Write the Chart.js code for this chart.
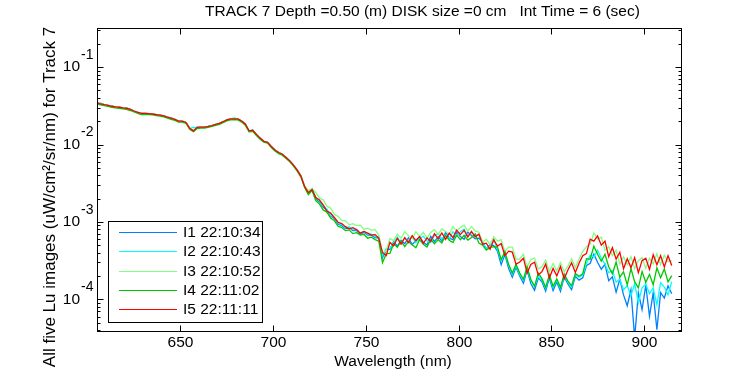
<!DOCTYPE html>
<html>
<head>
<meta charset="utf-8">
<script src="https://cdn.jsdelivr.net/npm/chart.js@4.4.1/dist/chart.umd.min.js"></script>
<style>
  html, body { margin: 0; padding: 0; background: #fff; }
  canvas { display: block; }
</style>
</head>
<body>
<canvas id="lu-chart" width="750" height="375"></canvas>
<script>
// Wavelength grid (nm)
const wavelengths = [
  605, 607, 609, 611, 613, 615, 617, 619, 621, 623, 625, 627, 629, 631, 633, 635, 637, 639, 641, 643,
  645, 647, 649, 651, 653, 655, 657, 659, 661, 663, 665, 667, 669, 671, 673, 675, 677, 679, 681, 683,
  685, 687, 689, 691, 693, 695, 697, 699, 701, 703, 705, 707, 709, 711, 713, 715, 717, 719, 721, 723,
  725, 727, 729, 731, 733, 735, 737, 739, 741, 743, 745, 747, 749, 751, 753, 755, 757, 759, 761, 763,
  765, 767, 769, 771, 773, 775, 777, 779, 781, 783, 785, 787, 789, 791, 793, 795, 797, 799, 801, 803,
  805, 807, 809, 811, 813, 815, 817, 819, 821, 823, 825, 827, 829, 831, 833, 835, 837, 839, 841, 843,
  845, 847, 849, 851, 853, 855, 857, 859, 861, 863, 865, 867, 869, 871, 873, 875, 877, 879, 881, 883,
  885, 887, 889, 891, 893, 895, 897, 899, 901, 903, 905, 907, 909, 911, 913, 915
];

const xTicks = [650, 700, 750, 800, 850, 900];
const yDecades = [-1, -2, -3, -4];
const seriesNames = ['I1 22:10:34', 'I2 22:10:43', 'I3 22:10:52', 'I4 22:11:02', 'I5 22:11:11'];
const seriesColors = ['#0080ff', '#00ffff', '#80ff80', '#00c800', '#ff0000'];

// Lu (uW/cm^2/sr/nm), one value per wavelength
const luI1 = [
  3.46e-2, 3.36e-2, 3.27e-2, 3.20e-2, 3.12e-2, 3.07e-2, 3.03e-2, 2.98e-2, 2.94e-2, 2.84e-2,
  2.71e-2, 2.61e-2, 2.52e-2, 2.52e-2, 2.50e-2, 2.48e-2, 2.44e-2, 2.39e-2, 2.34e-2, 2.26e-2,
  2.19e-2, 2.11e-2, 2.01e-2, 2.01e-2, 1.93e-2, 1.62e-2, 1.50e-2, 1.66e-2, 1.68e-2, 1.68e-2,
  1.71e-2, 1.76e-2, 1.82e-2, 1.88e-2, 1.97e-2, 2.08e-2, 2.14e-2, 2.15e-2, 2.14e-2, 2.01e-2,
  1.84e-2, 1.50e-2, 1.53e-2, 1.35e-2, 1.21e-2, 1.10e-2, 1.07e-2, 9.42e-3, 8.49e-3, 7.88e-3,
  7.49e-3, 6.79e-3, 6.15e-3, 5.43e-3, 4.68e-3, 3.91e-3,
  2.86e-3, 2.32e-3, 2.62e-3, 2.01e-3, 1.81e-3, 1.56e-3, 1.42e-3, 1.19e-3, 1.11e-3, 9.33e-4,
  8.96e-4, 8.19e-4, 8.39e-4, 7.71e-4, 7.72e-4, 6.95e-4, 7.31e-4, 6.74e-4, 6.75e-4, 6.26e-4, 6.17e-4,
  3.46e-4, 4.38e-4, 4.42e-4, 5.56e-4, 4.86e-4, 5.81e-4, 5.24e-4, 6.26e-4, 5.09e-4, 5.73e-4,
  6.45e-4, 5.46e-4, 5.04e-4, 6.50e-4, 5.56e-4, 6.45e-4, 5.68e-4, 7.31e-4, 6.17e-4, 5.90e-4,
  7.37e-4, 6.46e-4, 5.97e-4, 7.40e-4, 6.69e-4, 6.05e-4, 6.18e-4, 5.48e-4, 4.45e-4, 5.12e-4, 4.94e-4,
  4.19e-4, 2.80e-4, 3.78e-4, 2.52e-4, 1.93e-4, 2.60e-4, 2.00e-4, 1.61e-4, 2.39e-4, 1.60e-4,
  1.31e-4, 1.88e-4, 1.69e-4, 1.27e-4, 1.89e-4, 1.30e-4, 1.68e-4, 1.27e-4, 1.95e-4, 1.58e-4,
  1.33e-4, 1.98e-4, 1.77e-4, 1.90e-4,
  2.72e-4, 2.93e-4, 3.84e-4, 3.02e-4, 2.45e-4, 2.84e-4, 1.74e-4, 1.96e-4, 1.24e-4, 1.82e-4,
  1.14e-4, 8.26e-5, 1.33e-4, 3.18e-5, 1.22e-4, 7.36e-5, 1.52e-4, 6.03e-5, 1.21e-4, 4.05e-5,
  1.22e-4, 1.04e-4, 1.50e-4, 1.18e-4
];

const luI2 = [
  3.46e-2, 3.42e-2, 3.27e-2, 3.20e-2, 3.12e-2, 3.07e-2, 3.03e-2, 2.98e-2, 2.94e-2, 2.84e-2,
  2.71e-2, 2.61e-2, 2.52e-2, 2.52e-2, 2.50e-2, 2.48e-2, 2.44e-2, 2.39e-2, 2.34e-2, 2.26e-2,
  2.19e-2, 2.11e-2, 2.01e-2, 2.01e-2, 1.93e-2, 1.62e-2, 1.66e-2, 1.66e-2, 1.68e-2, 1.68e-2,
  1.71e-2, 1.76e-2, 1.82e-2, 1.88e-2, 1.97e-2, 2.08e-2, 2.14e-2, 2.20e-2, 2.14e-2, 2.01e-2,
  1.84e-2, 1.50e-2, 1.53e-2, 1.35e-2, 1.21e-2, 1.10e-2, 1.07e-2, 9.42e-3, 8.49e-3, 7.88e-3,
  7.49e-3, 6.79e-3, 6.15e-3, 5.43e-3, 4.68e-3, 3.91e-3,
  2.86e-3, 2.39e-3, 2.70e-3, 2.07e-3, 1.86e-3, 1.61e-3, 1.46e-3, 1.22e-3, 1.14e-3, 9.61e-4,
  9.23e-4, 8.44e-4, 8.64e-4, 7.95e-4, 7.95e-4, 7.16e-4, 7.53e-4, 6.95e-4, 6.95e-4, 6.46e-4, 6.36e-4,
  3.67e-4, 4.51e-4, 4.55e-4, 5.40e-4, 6.36e-4, 5.32e-4, 6.26e-4, 5.56e-4, 6.45e-4, 5.40e-4,
  6.08e-4, 6.53e-4, 5.68e-4, 5.44e-4, 6.64e-4, 7.05e-4, 6.03e-4, 6.89e-4, 5.99e-4, 7.49e-4,
  6.55e-4, 7.49e-4, 8.05e-4, 6.57e-4, 7.31e-4, 6.61e-4, 6.95e-4, 5.32e-4, 4.58e-4, 4.69e-4, 5.90e-4,
  4.45e-4, 3.16e-4, 4.01e-4, 2.76e-4, 2.11e-4, 2.76e-4, 2.12e-4, 1.77e-4, 2.54e-4, 1.75e-4,
  1.47e-4, 2.00e-4, 1.79e-4, 1.39e-4, 2.01e-4, 1.42e-4, 1.78e-4, 1.38e-4, 2.07e-4, 1.67e-4,
  1.45e-4, 2.10e-4, 1.93e-4, 2.08e-4,
  2.88e-4, 3.72e-4, 3.51e-4, 4.31e-4, 3.40e-4, 2.84e-4, 2.21e-4, 2.34e-4, 1.67e-4, 1.82e-4,
  1.33e-4, 1.50e-4, 1.11e-4, 1.59e-4, 9.04e-5, 1.42e-4, 1.56e-4, 1.19e-4, 1.41e-4, 8.51e-5,
  1.64e-4, 1.44e-4, 1.14e-4, 1.69e-4
];

const luI3 = [
  3.46e-2, 3.36e-2, 3.27e-2, 3.20e-2, 3.12e-2, 3.07e-2, 3.03e-2, 2.98e-2, 2.94e-2, 2.84e-2,
  2.71e-2, 2.61e-2, 2.52e-2, 2.52e-2, 2.50e-2, 2.48e-2, 2.44e-2, 2.39e-2, 2.34e-2, 2.26e-2,
  2.19e-2, 2.11e-2, 2.01e-2, 2.01e-2, 1.93e-2, 1.62e-2, 1.50e-2, 1.66e-2, 1.68e-2, 1.68e-2,
  1.71e-2, 1.76e-2, 1.82e-2, 1.88e-2, 1.97e-2, 2.08e-2, 2.14e-2, 2.15e-2, 2.14e-2, 2.01e-2,
  1.84e-2, 1.50e-2, 1.53e-2, 1.35e-2, 1.21e-2, 1.10e-2, 1.07e-2, 9.42e-3, 8.49e-3, 7.88e-3,
  7.49e-3, 6.79e-3, 6.15e-3, 5.43e-3, 4.68e-3, 3.91e-3,
  2.95e-3, 2.54e-3, 2.70e-3, 2.40e-3, 2.03e-3, 1.93e-3, 1.60e-3, 1.51e-3, 1.25e-3, 1.18e-3,
  1.04e-3, 1.04e-3, 9.17e-4, 9.51e-4, 8.96e-4, 9.09e-4, 7.99e-4, 8.31e-4, 7.83e-4, 7.95e-4, 6.74e-4,
  4.01e-4, 4.25e-4, 6.13e-4, 5.73e-4, 6.95e-4, 6.16e-4, 7.49e-4, 6.65e-4, 6.08e-4, 7.49e-4,
  6.45e-4, 7.36e-4, 6.21e-4, 7.33e-4, 7.94e-4, 6.84e-4, 8.12e-4, 7.54e-4, 6.94e-4, 8.69e-4,
  7.60e-4, 8.44e-4, 9.06e-4, 7.62e-4, 8.75e-4, 7.67e-4, 7.38e-4, 5.48e-4, 5.99e-4, 5.12e-4, 6.46e-4,
  5.65e-4, 5.91e-4, 4.13e-4, 4.72e-4, 4.72e-4, 3.30e-4, 3.32e-4, 3.83e-4, 2.61e-4, 3.27e-4,
  3.40e-4, 2.46e-4, 2.64e-4, 3.21e-4, 2.26e-4, 2.91e-4, 2.33e-4, 3.00e-4, 2.26e-4, 2.69e-4,
  3.35e-4, 2.58e-4, 3.30e-4, 4.13e-4,
  4.79e-4, 5.16e-4, 7.17e-4, 5.99e-4, 6.36e-4, 4.32e-4, 4.79e-4, 3.66e-4, 4.32e-4, 2.84e-4,
  3.55e-4, 2.80e-4, 3.56e-4, 2.49e-4, 3.16e-4, 3.46e-4, 2.51e-4, 3.39e-4, 2.88e-4, 3.88e-4,
  2.81e-4, 3.74e-4, 3.06e-4, 3.16e-4
];

const luI4 = [
  3.36e-2, 3.26e-2, 3.17e-2, 3.10e-2, 3.03e-2, 2.98e-2, 2.94e-2, 2.89e-2, 2.85e-2, 2.75e-2,
  2.63e-2, 2.53e-2, 2.44e-2, 2.44e-2, 2.43e-2, 2.41e-2, 2.37e-2, 2.32e-2, 2.27e-2, 2.19e-2,
  2.12e-2, 2.05e-2, 1.95e-2, 1.95e-2, 1.87e-2, 1.57e-2, 1.46e-2, 1.61e-2, 1.63e-2, 1.63e-2,
  1.66e-2, 1.71e-2, 1.77e-2, 1.82e-2, 1.91e-2, 2.02e-2, 2.08e-2, 2.09e-2, 2.08e-2, 1.95e-2,
  1.78e-2, 1.46e-2, 1.48e-2, 1.31e-2, 1.17e-2, 1.07e-2, 1.04e-2, 9.14e-3, 8.24e-3, 7.64e-3,
  7.27e-3, 6.59e-3, 5.97e-3, 5.27e-3, 4.54e-3, 3.79e-3,
  2.78e-3, 2.25e-3, 2.54e-3, 1.89e-3, 1.70e-3, 1.43e-3, 1.34e-3, 1.12e-3, 1.04e-3, 8.79e-4,
  8.45e-4, 7.72e-4, 7.90e-4, 7.06e-4, 7.27e-4, 6.75e-4, 6.89e-4, 6.17e-4, 6.36e-4, 5.91e-4, 5.65e-4,
  2.98e-4, 3.89e-4, 3.92e-4, 5.24e-4, 4.72e-4, 5.64e-4, 4.79e-4, 5.56e-4, 5.09e-4, 4.65e-4,
  5.90e-4, 5.15e-4, 4.75e-4, 5.95e-4, 5.23e-4, 5.90e-4, 5.35e-4, 6.69e-4, 5.81e-4, 5.40e-4,
  6.75e-4, 5.90e-4, 6.73e-4, 5.83e-4, 6.30e-4, 7.02e-4, 5.32e-4, 5.01e-4, 4.32e-4, 4.69e-4, 4.80e-4,
  4.72e-4, 3.25e-4, 4.13e-4, 2.84e-4, 2.18e-4, 2.84e-4, 2.19e-4, 1.82e-4, 2.61e-4, 1.80e-4,
  1.47e-4, 2.19e-4, 1.85e-4, 1.43e-4, 2.07e-4, 1.47e-4, 1.84e-4, 1.42e-4, 2.13e-4, 1.72e-4,
  1.50e-4, 2.16e-4, 1.99e-4, 2.14e-4,
  3.35e-4, 3.30e-4, 4.86e-4, 3.83e-4, 3.11e-4, 3.83e-4, 2.64e-4, 2.14e-4, 3.02e-4, 1.93e-4,
  2.27e-4, 1.54e-4, 2.49e-4, 1.69e-4, 1.41e-4, 2.28e-4, 1.66e-4, 2.10e-4, 1.54e-4, 2.56e-4,
  1.90e-4, 2.47e-4, 1.68e-4, 2.02e-4
];

const luI5 = [
  3.46e-2, 3.36e-2, 3.27e-2, 3.20e-2, 3.12e-2, 3.07e-2, 3.03e-2, 2.98e-2, 2.94e-2, 2.84e-2,
  2.71e-2, 2.61e-2, 2.52e-2, 2.52e-2, 2.50e-2, 2.48e-2, 2.44e-2, 2.39e-2, 2.34e-2, 2.26e-2,
  2.19e-2, 2.11e-2, 2.01e-2, 2.01e-2, 1.93e-2, 1.62e-2, 1.50e-2, 1.66e-2, 1.68e-2, 1.68e-2,
  1.71e-2, 1.76e-2, 1.82e-2, 1.88e-2, 1.97e-2, 2.08e-2, 2.14e-2, 2.15e-2, 2.14e-2, 2.01e-2,
  1.84e-2, 1.50e-2, 1.53e-2, 1.35e-2, 1.21e-2, 1.10e-2, 1.07e-2, 9.42e-3, 8.49e-3, 7.88e-3,
  7.49e-3, 6.79e-3, 6.15e-3, 5.43e-3, 4.68e-3, 3.91e-3,
  2.86e-3, 2.39e-3, 2.62e-3, 2.07e-3, 1.92e-3, 1.66e-3, 1.38e-3, 1.30e-3, 1.14e-3, 9.90e-4,
  9.51e-4, 8.69e-4, 8.15e-4, 8.44e-4, 7.95e-4, 7.16e-4, 7.53e-4, 7.16e-4, 6.75e-4, 6.85e-4, 6.17e-4,
  4.01e-4, 3.67e-4, 5.44e-4, 4.94e-4, 6.16e-4, 5.16e-4, 6.26e-4, 5.40e-4, 6.65e-4, 5.73e-4,
  6.45e-4, 5.30e-4, 6.21e-4, 5.61e-4, 7.06e-4, 6.08e-4, 7.20e-4, 5.94e-4, 7.15e-4, 6.27e-4,
  7.83e-4, 6.86e-4, 7.80e-4, 6.38e-4, 7.53e-4, 6.42e-4, 6.95e-4, 5.17e-4, 5.32e-4, 4.42e-4, 5.90e-4,
  4.86e-4, 5.24e-4, 3.67e-4, 4.19e-4, 4.07e-4, 2.84e-4, 3.04e-4, 3.40e-4, 2.19e-4, 2.82e-4,
  3.02e-4, 2.06e-4, 2.28e-4, 2.85e-4, 1.89e-4, 2.51e-4, 2.01e-4, 2.66e-4, 1.84e-4, 2.39e-4,
  2.97e-4, 2.22e-4, 2.93e-4, 3.66e-4,
  3.89e-4, 6.00e-4, 5.65e-4, 6.60e-4, 5.01e-4, 5.64e-4, 3.55e-4, 4.64e-4, 3.31e-4, 4.06e-4,
  2.48e-4, 3.35e-4, 2.57e-4, 3.45e-4, 2.21e-4, 3.16e-4, 3.39e-4, 2.44e-4, 3.77e-4, 2.80e-4,
  3.67e-4, 2.62e-4, 3.66e-4, 2.73e-4
];

const allSeries = [luI1, luI2, luI3, luI4, luI5];
const FONT = '"Liberation Sans", Arial, sans-serif';

// MATLAB-style box, inward ticks, labels and legend
const matlabFrame = {
  id: 'matlabFrame',
  afterDatasetsDraw(chart) {
    const { ctx, chartArea: a, scales: { x, y } } = chart;
    const L = Math.round(a.left) + 0.5, R = Math.round(a.right) + 0.5;
    const T = Math.round(a.top) + 0.5, B = Math.round(a.bottom) + 0.5;
    const seg = (x1, y1, x2, y2) => { ctx.beginPath(); ctx.moveTo(x1, y1); ctx.lineTo(x2, y2); ctx.stroke(); };

    ctx.save();
    ctx.strokeStyle = '#000';
    ctx.lineWidth = 1;
    ctx.strokeRect(L, T, R - L, B - T);

    ctx.fillStyle = '#000';
    ctx.font = '15.5px ' + FONT;
    ctx.textAlign = 'center';
    ctx.textBaseline = 'middle';
    xTicks.forEach(v => {
      const px = Math.round(x.getPixelForValue(v)) + 0.5;
      seg(px, B, px, B - 6);
      seg(px, T, px, T + 6);
      ctx.fillText(String(v), px, 343);
    });

    // log ticks: majors at decades, minors at 2..9
    for (let e = -5; e <= 0; e++) {
      for (let m = 1; m <= 9; m++) {
        const v = m * Math.pow(10, e);
        if (v < y.min || v > y.max) continue;
        const py = Math.round(y.getPixelForValue(v)) + 0.5;
        const len = m === 1 ? 6 : 3;
        seg(L, py, L + len, py);
        seg(R, py, R - len, py);
      }
    }
    yDecades.forEach(e => {
      const py = y.getPixelForValue(Math.pow(10, e));
      ctx.font = '15.5px ' + FONT;
      ctx.textAlign = 'right';
      ctx.fillText('10', 80, py);
      ctx.font = '14px ' + FONT;
      ctx.textAlign = 'left';
      ctx.fillText(String(e), 81, py - 12);
    });

    // axis titles
    ctx.font = '15.5px ' + FONT;
    ctx.textAlign = 'center';
    ctx.fillText('Wavelength (nm)', (a.left + a.right) / 2 + 4, 362);
    ctx.save();
    ctx.font = '17px ' + FONT;
    ctx.translate(50, 197);
    ctx.rotate(-Math.PI / 2);
    ctx.fillText('All five Lu images (uW/cm\u00b2/sr/nm) for Track 7', 0, 0);
    ctx.restore();

    ctx.textAlign = 'left';
    ctx.fillText('TRACK 7 Depth =0.50 (m) DISK size =0 cm   Int Time = 6 (sec)', 205, 12);

    // legend
    ctx.fillStyle = '#fff';
    ctx.fillRect(108.5, 221.5, 154, 101);
    ctx.strokeRect(108.5, 221.5, 154, 101);
    seriesNames.forEach((name, i) => {
      const ly = Math.round(232 + i * 19.3) + 0.5;
      ctx.strokeStyle = seriesColors[i];
      seg(119, ly, 177, ly);
      ctx.fillStyle = '#000';
      ctx.fillText(name, 183, ly);
    });
    ctx.restore();
  }
};

new Chart(document.getElementById('lu-chart'), {
  type: 'line',
  data: {
    datasets: allSeries.map((vals, i) => ({
      label: seriesNames[i],
      data: wavelengths.map((w, j) => ({ x: w, y: vals[j] })),
      borderColor: seriesColors[i],
      borderWidth: 1.3,
      pointRadius: 0,
      tension: 0,
      fill: false,
      order: allSeries.length - i
    }))
  },
  options: {
    responsive: false,
    animation: false,
    devicePixelRatio: 1,
    layout: { padding: { left: 97, right: 69, top: 28, bottom: 44 } },
    plugins: { legend: { display: false }, tooltip: { enabled: false }, title: { display: false } },
    scales: {
      x: { type: 'linear', display: false, min: 605, max: 920 },
      y: { type: 'logarithmic', display: false, min: 3.9e-5, max: 0.32 }
    }
  },
  plugins: [matlabFrame]
});
</script>
</body>
</html>
